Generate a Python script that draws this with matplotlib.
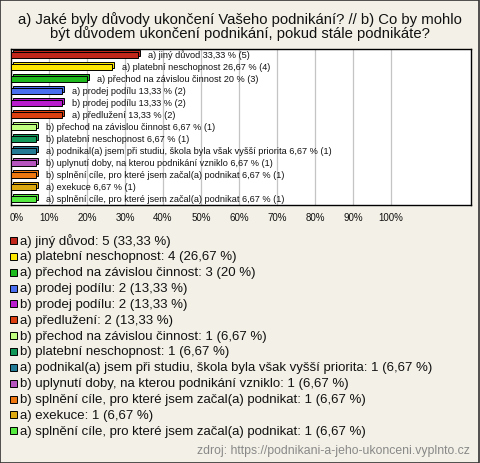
import numpy as np
import matplotlib
matplotlib.use('Agg')
import matplotlib.pyplot as plt
import matplotlib.transforms as mtransforms
from matplotlib.patches import Rectangle

plt.rcParams['font.family'] = ['Liberation Sans', 'DejaVu Sans']

# data
categories = [
    "a) jiný důvod",
    "a) platební neschopnost",
    "a) přechod na závislou činnost",
    "a) prodej podílu",
    "b) prodej podílu",
    "a) předlužení",
    "b) přechod na závislou činnost",
    "b) platební neschopnost",
    "a) podnikal(a) jsem při studiu, škola byla však vyšší priorita",
    "b) uplynutí doby, na kterou podnikání vzniklo",
    "b) splnění cíle, pro které jsem začal(a) podnikat",
    "a) exekuce",
    "a) splnění cíle, pro které jsem začal(a) podnikat",
]
counts = [5, 4, 3, 2, 2, 2, 1, 1, 1, 1, 1, 1, 1]
percents = [33.33, 26.67, 20, 13.33, 13.33, 13.33, 6.67, 6.67, 6.67, 6.67, 6.67, 6.67, 6.67]
pct_labels = ["33,33", "26,67", "20", "13,33", "13,33", "13,33",
              "6,67", "6,67", "6,67", "6,67", "6,67", "6,67", "6,67"]
colors = ["#c0261a", "#ffe800", "#1db91d", "#4a6ef0", "#b91ccc", "#dc4010",
          "#c0ff80", "#12995a", "#237a95", "#b655bd", "#ee7710", "#dcaa10", "#55ea40"]
xticks = np.arange(0, 101, 10)

bg = "#f3f1e7"
fig = plt.figure(figsize=(4.8, 4.64), dpi=100, facecolor=bg)

# figure border
fig.patches.append(Rectangle((0.001, 0.001), 0.997, 0.997, transform=fig.transFigure,
                             fill=False, edgecolor="#333333", linewidth=1.2))

fig.text(0.5, 1 - 20 / 464, "a) Jaké byly důvody ukončení Vašeho podnikání? // b) Co by mohlo",
         ha="center", va="center", fontsize=10.75, color="#111111")
fig.text(0.5, 1 - 34 / 464, "být důvodem ukončení podnikání, pokud stále podnikáte?",
         ha="center", va="center", fontsize=10.75, color="#111111")

ax = fig.add_axes([11 / 480, 1 - 206 / 464, 460 / 480, 156 / 464])
ax.set_facecolor("white")
ypos = np.arange(len(categories))

# 3d look: back face shifted right/up, then front face
ax.barh(ypos - 0.14, percents, left=0.55, height=0.5, color=colors,
        edgecolor="black", linewidth=0.7, zorder=2)
ax.barh(ypos, percents, height=0.5, color=colors, edgecolor="black",
        linewidth=0.7, zorder=3)

for y, p, pl, c, cat in zip(ypos, percents, pct_labels, counts, categories):
    ax.text(p + 2.6, y - 0.05, f"{cat} {pl} % ({c})", va="center", ha="left",
            fontsize=6.6, color="#111111", zorder=4)

ax.set_xlim(0, 460 / 3.8)
ax.set_ylim(12.5, -0.5)
ax.set_xticks(xticks)
ax.set_xticklabels([f"{t}%" for t in xticks], fontsize=7, color="#111111")
ax.set_yticks([])
ax.tick_params(axis="x", length=0, pad=5)
# first label is pushed inside like in the original
lbl0 = ax.get_xticklabels()[0]
lbl0.set_transform(lbl0.get_transform() + mtransforms.ScaledTranslation(6 / 100, 0, fig.dpi_scale_trans))
for t in xticks[1:]:
    ax.axvline(t, color="#c4c4c4", linewidth=0.9, zorder=1)
for s in ax.spines.values():
    s.set_color("black")
    s.set_linewidth(1.0)

# legend
row0 = 241.5
step = 15.85
for i, (cat, c, pl, col) in enumerate(zip(categories, counts, pct_labels, colors)):
    yc = row0 + i * step
    fig.patches.append(Rectangle((10 / 480, 1 - (yc + 3.5) / 464), 7 / 480, 7 / 464,
                                 transform=fig.transFigure, facecolor=col,
                                 edgecolor="black", linewidth=0.7))
    fig.text(20.5 / 480, 1 - yc / 464, f"{cat}: {c} ({pl} %)", ha="left", va="center",
             fontsize=9.5, color="#111111")

fig.text(470 / 480, 1 - 451 / 464, "zdroj: https://podnikani-a-jeho-ukonceni.vyplnto.cz",
         ha="right", va="center", fontsize=8.8, color="#888888")

fig.savefig("out.png", dpi=100, facecolor=bg)
